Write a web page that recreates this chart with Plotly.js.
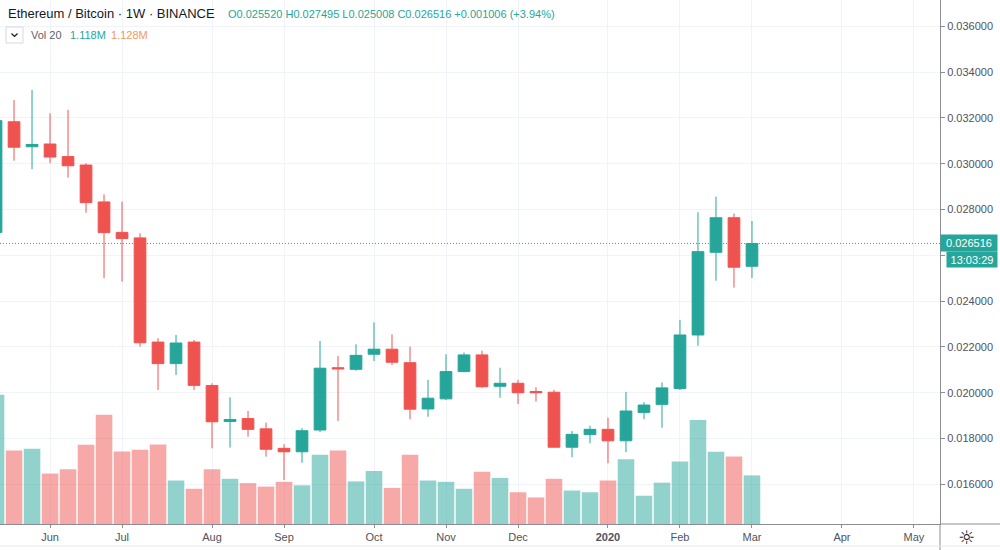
<!DOCTYPE html>
<html>
<head>
<meta charset="utf-8">
<script src="https://cdn.plot.ly/plotly-3.0.1.min.js"></script>
<style>
html,body{margin:0;padding:0;background:#fff;}
#chart{width:1000px;height:550px;}
</style>
</head>
<body>
<div id="chart"></div>
<script>
// Weekly bars (Monday open dates), ETH/BTC Binance
const weeks = [
  '2019-05-13','2019-05-20','2019-05-27','2019-06-03','2019-06-10','2019-06-17','2019-06-24',
  '2019-07-01','2019-07-08','2019-07-15','2019-07-22','2019-07-29','2019-08-05','2019-08-12',
  '2019-08-19','2019-08-26','2019-09-02','2019-09-09','2019-09-16','2019-09-23','2019-09-30',
  '2019-10-07','2019-10-14','2019-10-21','2019-10-28','2019-11-04','2019-11-11','2019-11-18',
  '2019-11-25','2019-12-02','2019-12-09','2019-12-16','2019-12-23','2019-12-30','2020-01-06',
  '2020-01-13','2020-01-20','2020-01-27','2020-02-03','2020-02-10','2020-02-17','2020-02-24',
  '2020-03-02'
];
const openP = [
  0.02699,0.03183,0.03074,0.03086,0.03031,0.02994,0.02833,
  0.02700,0.02676,0.02221,0.02127,0.02221,0.02031,0.01874,
  0.01887,0.01842,0.01757,0.01742,0.01837,0.02109,0.02102,
  0.02168,0.02190,0.02131,0.01929,0.01973,0.02092,0.02165,
  0.02028,0.02041,0.02005,0.02002,0.01762,0.01817,0.01840,
  0.01790,0.01914,0.01949,0.02018,0.02252,0.02613,0.02764,
  0.025520
];
const highP = [
  0.03205,0.03278,0.03322,0.03220,0.03235,0.03002,0.02866,
  0.02834,0.02696,0.02238,0.02252,0.02230,0.02041,0.01980,
  0.01920,0.01869,0.01775,0.01845,0.02226,0.02160,0.02211,
  0.02307,0.02255,0.02201,0.02056,0.02168,0.02175,0.02183,
  0.02109,0.02056,0.02024,0.02012,0.01833,0.01856,0.01891,
  0.02004,0.01959,0.02045,0.02318,0.02788,0.02856,0.02783,
  0.027495
];
const lowP = [
  0.02650,0.03013,0.02976,0.03002,0.02939,0.02786,0.02500,
  0.02485,0.02201,0.02012,0.02077,0.02012,0.01757,0.01760,
  0.01808,0.01721,0.01619,0.01694,0.01828,0.01876,0.02096,
  0.02138,0.02121,0.01884,0.01895,0.01968,0.02089,0.02021,
  0.01978,0.01951,0.01961,0.01760,0.01718,0.01779,0.01692,
  0.01740,0.01884,0.01847,0.02012,0.02205,0.02489,0.02459,
  0.025008
];
const closeP = [
  0.03188,0.03072,0.03084,0.03029,0.02991,0.02830,0.02699,
  0.02673,0.02218,0.02127,0.02217,0.02032,0.01873,0.01883,
  0.01840,0.01753,0.01742,0.01834,0.02107,0.02104,0.02163,
  0.02190,0.02133,0.01928,0.01976,0.02092,0.02165,0.02026,
  0.02041,0.02000,0.02000,0.01762,0.01818,0.01840,0.01790,
  0.01920,0.01946,0.02021,0.02252,0.02616,0.02764,0.02548,
  0.026516
];
// Volume in millions
const volumeM = [
  2.97,1.69,1.73,1.16,1.26,1.82,2.51,
  1.67,1.71,1.83,1.00,0.81,1.26,1.04,
  0.94,0.86,0.97,0.89,1.59,1.69,0.98,
  1.22,0.83,1.59,1.00,0.97,0.81,1.20,
  1.06,0.73,0.61,1.04,0.77,0.73,1.00,
  1.49,0.65,0.95,1.44,2.39,1.66,1.55,
  1.118
];
const monthTickDates = ['2019-06-03','2019-07-01','2019-08-05','2019-09-02','2019-10-07','2019-11-04',
  '2019-12-02','2020-01-06','2020-02-03','2020-03-02','2020-04-06','2020-05-04'];
const monthTickLabels = ['Jun','Jul','Aug','Sep','Oct','Nov','Dec','<b>2020</b>','Feb','Mar','Apr','May'];
const priceTicks = [0.016,0.018,0.020,0.022,0.024,0.026,0.028,0.030,0.032,0.034,0.036];
const lastPrice = 0.026516;
const lastPriceLabel = '0.026516';
const countdownLabel = '13:03:29';
const headerTitle = 'Ethereum / Bitcoin · 1W · BINANCE';
const headerValues = 'O0.025520 H0.027495 L0.025008 C0.026516 +0.001006 (+3.94%)';
const volLabel = 'Vol 20';
const volValue = '1.118M';
const volMA = '1.128M';

const UP = '#26a69a', DOWN = '#ef5350';
const UPV = 'rgba(38,166,154,0.5)', DOWNV = 'rgba(239,83,80,0.5)';
const FONT = 'Liberation Sans, Arial, sans-serif';

const W = 940, H = 524; // plot area in px
const px = x => x / W;
const py = y => 1 - y / H;

const volColors = closeP.map((c, i) => c >= openP[i] ? UPV : DOWNV);
const WEEK = 7 * 24 * 3600 * 1000;
// the price-tag boxes cover the tick label nearest to the last price
const priceTickText = priceTicks.map(v => Math.abs(v - lastPrice) < 0.0008 ? '' : v.toFixed(6));

const traces = [
  {
    type: 'bar', x: weeks, y: volumeM, yaxis: 'y2',
    width: WEEK * 0.92,
    marker: {color: volColors, line: {width: 0}},
    hoverinfo: 'skip'
  },
  {
    type: 'candlestick', x: weeks, open: openP, high: highP, low: lowP, close: closeP,
    increasing: {line: {color: UP, width: 1}, fillcolor: UP},
    decreasing: {line: {color: DOWN, width: 1}, fillcolor: DOWN},
    whiskerwidth: 0,
    hoverinfo: 'skip'
  }
];

const axisLine = '#8a8d96';
const layout = {
  width: 1000, height: 550,
  margin: {l: 0, r: 60, t: 0, b: 26, pad: 0},
  paper_bgcolor: '#ffffff', plot_bgcolor: '#ffffff',
  showlegend: false, hovermode: false,
  boxgap: 0.35, boxgroupgap: 0,
  font: {family: FONT, color: '#4c525e', size: 11},
  xaxis: {
    type: 'date',
    range: ['2019-05-14 13:00', '2020-05-14 03:00'],
    rangeslider: {visible: false},
    tickmode: 'array', tickvals: monthTickDates, ticktext: monthTickLabels,
    showgrid: true, gridcolor: '#f0f3fa', gridwidth: 1,
    ticks: 'outside', ticklen: 3, tickcolor: axisLine,
    showline: true, linecolor: axisLine, linewidth: 1,
    tickfont: {family: FONT, size: 11, color: '#50535e'},
    zeroline: false, fixedrange: true
  },
  yaxis: {
    side: 'right',
    range: [0.014266, 0.037148],
    tickmode: 'array', tickvals: priceTicks, ticktext: priceTickText,
    showgrid: true, gridcolor: '#f0f3fa', gridwidth: 1,
    ticks: 'outside', ticklen: 4, tickcolor: axisLine,
    showline: true, linecolor: axisLine, linewidth: 1,
    tickfont: {family: FONT, size: 11, color: '#50535e'},
    zeroline: false, fixedrange: true
  },
  yaxis2: {
    overlaying: 'y', range: [0, 12.05], visible: false, fixedrange: true
  },
  shapes: [
    {type: 'line', xref: 'paper', yref: 'y', x0: 0, x1: 1, y0: lastPrice, y1: lastPrice,
     line: {color: UP, width: 1, dash: '1px,2px'}},
    {type: 'line', xref: 'paper', yref: 'paper', x0: 1, x1: px(1000), y0: 0, y1: 0,
     line: {color: axisLine, width: 1}},
    {type: 'line', xref: 'paper', yref: 'paper', x0: 1, x1: 1, y0: 0, y1: py(550),
     line: {color: axisLine, width: 1}},
    {type: 'line', xref: 'paper', yref: 'paper', x0: 0, x1: px(1000), y0: py(546), y1: py(546),
     line: {color: '#e6e8ee', width: 1}},
    {type: 'rect', xref: 'paper', yref: 'paper', x0: px(6), x1: px(23), y0: py(27), y1: py(43),
     line: {color: '#d6d9e0', width: 1}, fillcolor: '#ffffff'},
    {type: 'path', xref: 'paper', yref: 'paper',
     path: 'M ' + px(11.5) + ',' + py(33.5) + ' L ' + px(14.5) + ',' + py(36.5) + ' L ' + px(17.5) + ',' + py(33.5),
     line: {color: '#131722', width: 1.2}}
  ],
  annotations: [
    {xref: 'paper', yref: 'paper', x: px(6), y: py(14), xanchor: 'left', yanchor: 'middle',
     text: headerTitle, showarrow: false, font: {family: FONT, size: 13, color: '#131722'}},
    {xref: 'paper', yref: 'paper', x: px(226), y: py(14), xanchor: 'left', yanchor: 'middle',
     text: headerValues, showarrow: false, font: {family: FONT, size: 11, color: UP}},
    {xref: 'paper', yref: 'paper', x: px(29), y: py(35), xanchor: 'left', yanchor: 'middle',
     text: volLabel, showarrow: false, font: {family: FONT, size: 11, color: '#5d606b'}},
    {xref: 'paper', yref: 'paper', x: px(68), y: py(35), xanchor: 'left', yanchor: 'middle',
     text: volValue, showarrow: false, font: {family: FONT, size: 11, color: UP}},
    {xref: 'paper', yref: 'paper', x: px(109), y: py(35), xanchor: 'left', yanchor: 'middle',
     text: volMA, showarrow: false, font: {family: FONT, size: 11, color: '#f7975b'}},
    {xref: 'paper', yref: 'y', x: 1, y: lastPrice, xanchor: 'left', yanchor: 'middle',
     text: lastPriceLabel, showarrow: false, bgcolor: UP, borderpad: 2, width: 52, height: 12,
     font: {family: FONT, size: 11, color: '#ffffff'}},
    {xref: 'paper', yref: 'paper', x: px(946), y: py(259.5), xanchor: 'left', yanchor: 'middle',
     text: countdownLabel, showarrow: false, bgcolor: UP, borderpad: 2, width: 46, height: 11,
     font: {family: FONT, size: 11, color: '#ffffff'}},
    {xref: 'paper', yref: 'paper', x: px(967), y: py(537), xanchor: 'center', yanchor: 'middle',
     text: '☼', showarrow: false, font: {family: 'DejaVu Sans', size: 19, color: '#131722'}}
  ]
};

Plotly.newPlot('chart', traces, layout, {staticPlot: true, displayModeBar: false});
</script>
</body>
</html>
